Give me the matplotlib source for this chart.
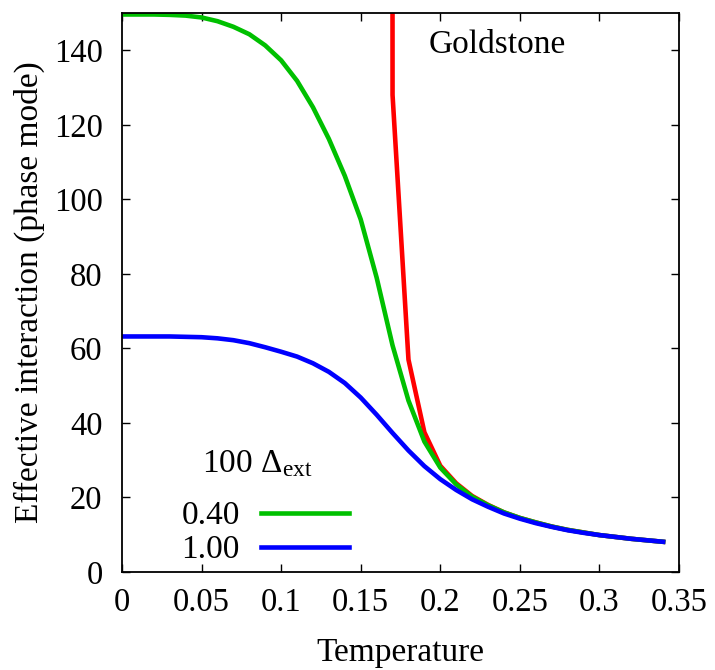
import matplotlib
matplotlib.use("Agg")
import matplotlib.pyplot as plt

plt.rcParams["font.family"] = ["Liberation Serif", "DejaVu Serif"]
plt.rcParams["mathtext.fontset"] = "custom"
plt.rcParams["mathtext.rm"] = "Liberation Serif"
plt.rcParams["mathtext.it"] = "Liberation Serif:italic"
plt.rcParams["font.size"] = 24

# temperature grid (0.01 steps)
temp = [0.00, 0.01, 0.02, 0.03, 0.04, 0.05, 0.06, 0.07, 0.08, 0.09,
        0.10, 0.11, 0.12, 0.13, 0.14, 0.15, 0.16, 0.17, 0.18, 0.19,
        0.20, 0.21, 0.22, 0.23, 0.24, 0.25, 0.26, 0.27, 0.28, 0.29,
        0.30, 0.31, 0.32, 0.33, 0.34]

# 100 Delta_ext = 0.40
green_vals = [149.6, 149.6, 149.6, 149.5, 149.3, 148.8, 147.8, 146.3, 144.3, 141.3,
              137.3, 131.8, 124.7, 116.2, 106.3, 94.6, 79.0, 60.8, 46.0, 35.0,
              28.0, 23.5, 20.2, 17.9, 16.0, 14.5, 13.3, 12.2, 11.3, 10.6,
              9.9, 9.4, 8.9, 8.5, 8.1]

# 100 Delta_ext = 1.00
blue_vals = [63.2, 63.2, 63.2, 63.2, 63.1, 63.0, 62.7, 62.2, 61.4, 60.3,
             59.1, 57.8, 56.0, 53.7, 50.7, 46.8, 42.2, 37.3, 32.6, 28.4,
             24.9, 22.0, 19.5, 17.5, 15.7, 14.3, 13.1, 12.1, 11.2, 10.5,
             9.9, 9.4, 8.9, 8.5, 8.1]

# no external field (diverges near Tc)
red_temp = [0.1695, 0.17, 0.18, 0.19, 0.20, 0.21, 0.22, 0.23, 0.24, 0.25,
            0.26, 0.27, 0.28, 0.29, 0.30, 0.31, 0.32, 0.33, 0.34]
red_vals = [600.0, 128.0, 57.0, 37.5, 28.5, 23.8, 20.4, 18.0, 16.0, 14.5,
            13.3, 12.2, 11.3, 10.6, 9.9, 9.4, 8.9, 8.5, 8.1]

legend_title = r"100 $\Delta_{\rm ext}$"

fig = plt.figure(figsize=(7.15, 6.7), dpi=100)
ax = fig.add_axes([0.1706, 0.1463, 0.7791, 0.8343])

ax.plot(red_temp, red_vals, color="#ff0000", lw=3.3)
ax.plot(temp, green_vals, color="#00c000", lw=3.3, label="0.40")
ax.plot(temp, blue_vals, color="#0000ff", lw=3.3, label="1.00")

ax.set_xlim(0, 0.35)
ax.set_ylim(0, 150)
ax.set_xticks([0, 0.05, 0.1, 0.15, 0.2, 0.25, 0.3, 0.35])
ax.set_xticklabels(["0", "0.05", "0.1", "0.15", "0.2", "0.25", "0.3", "0.35"])
ax.set_yticks([0, 20, 40, 60, 80, 100, 120, 140])

ax.tick_params(direction="in", length=6, width=1, top=True, right=True,
               labelsize=23.5)
ax.tick_params(axis="x", pad=11)
ax.tick_params(axis="y", pad=14)
for s in ax.spines.values():
    s.set_linewidth(1.3)

ax.set_xlabel("Temperature", labelpad=14)
ax.set_ylabel("Effective interaction (phase mode)", labelpad=6)

ax.text(0.2355, 141.5, "Goldstone", ha="center", va="center")

ax.text(0.1436, 0.179, legend_title, transform=ax.transAxes,
        ha="left", va="baseline")
ax.legend(loc="lower right", bbox_to_anchor=(0.4075, 0.012),
          markerfirst=False, frameon=False, handlelength=2.65,
          handletextpad=0.62, labelspacing=0.1, borderpad=0,
          borderaxespad=0)

fig.savefig("out.png", dpi=100)
